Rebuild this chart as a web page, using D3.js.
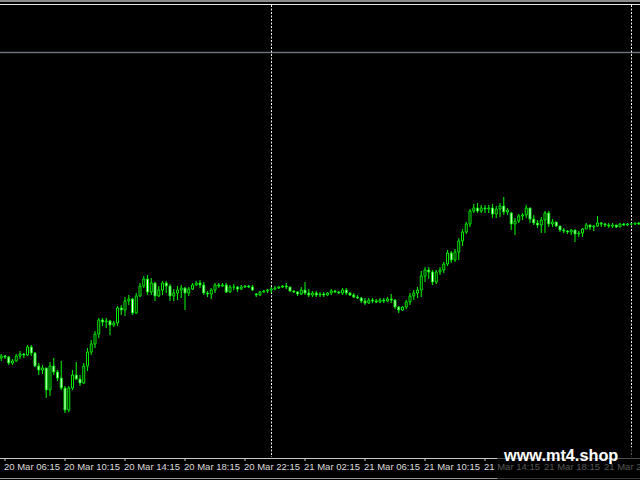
<!DOCTYPE html>
<html><head><meta charset="utf-8">
<script src="https://cdn.jsdelivr.net/npm/d3@7"></script>
<style>html,body{margin:0;padding:0;background:#000;overflow:hidden}</style>
</head><body><svg id="c" width="640" height="480"></svg>
<script>
// M15 bars starting 20 Mar 06:00 (prices in points)
const startTime = new Date(2024, 2, 20, 6, 0);
const barMinutes = 15;
const open = [142,144,143,137,139,144,146,145,153,147,134,130,132,110,134,128,122,112,90,112,125,121,117,134,148,156,166,180,178,179,175,177,192,190,199,201,187,204,214,221,208,217,204,210,217,214,204,207,210,212,207,211,215,217,215,207,206,210,215,214,215,208,213,213,211,213,214,213,206,205,208,209,210,211,212,213,214,213,209,208,206,210,207,205,207,205,206,205,207,209,208,207,210,207,205,203,202,199,197,200,199,198,200,199,201,200,193,190,193,198,204,207,210,224,230,228,218,228,230,236,247,240,248,259,268,276,289,292,289,292,291,292,286,291,294,288,287,276,279,284,285,292,281,277,275,280,287,276,278,274,270,269,268,270,266,267,271,275,273,274,277,276,275,274,275,273,276,275,276,276,277];
const high = [146,145,144,141,146,149,147,155,155,148,137,135,132,138,142,130,139,114,114,130,138,125,137,152,160,169,182,182,182,180,179,194,195,203,205,202,207,217,224,225,222,218,214,219,219,216,211,214,215,213,213,217,219,220,218,209,212,217,217,217,217,215,216,214,215,215,215,215,207,209,210,211,213,214,214,215,217,213,210,209,213,218,211,209,209,208,208,208,211,210,209,212,212,208,207,205,203,202,202,202,201,202,202,203,206,201,194,194,200,207,210,213,229,233,233,230,230,233,238,250,249,251,262,271,278,291,296,297,295,295,295,296,294,297,303,292,288,282,286,287,295,292,285,280,283,289,289,281,278,274,272,270,271,270,269,272,277,275,275,284,278,277,277,277,275,277,277,277,277,277,278];
const low = [139,141,135,135,138,141,142,144,144,133,125,126,102,104,125,119,110,87,88,110,120,114,116,129,145,152,162,174,172,165,173,174,185,184,195,185,186,203,212,205,205,199,203,205,207,199,199,200,202,190,204,210,214,212,205,203,201,207,212,213,207,207,210,208,210,212,212,209,203,204,207,207,207,210,211,212,211,208,207,204,205,205,203,203,203,203,203,204,205,207,206,205,205,204,202,201,197,195,196,197,197,197,197,198,197,191,187,189,191,195,200,202,203,218,221,215,216,225,227,234,237,238,240,254,266,273,287,287,287,287,287,282,282,283,285,285,270,265,277,280,282,277,275,272,267,267,273,273,273,268,267,266,265,258,263,263,271,270,269,273,273,273,272,272,272,273,274,274,275,275,275];
const close = [144,143,137,139,144,146,145,153,147,134,130,132,110,134,128,122,112,90,112,125,121,117,134,148,156,166,180,178,179,175,177,192,190,199,201,187,204,214,221,208,217,204,210,217,214,204,207,210,212,207,211,215,217,215,207,206,210,215,214,215,208,213,213,211,213,214,213,210,205,208,209,210,211,212,213,214,213,209,208,206,210,207,205,207,205,206,205,207,209,208,207,210,207,205,203,202,199,197,200,199,198,200,199,201,200,193,190,193,198,204,207,210,224,230,228,218,228,230,236,247,240,248,259,268,276,289,292,289,292,291,292,286,291,294,288,290,276,279,284,285,292,281,277,275,280,287,276,278,274,270,269,268,270,266,267,271,275,273,274,277,276,275,274,275,273,276,275,276,276,277,276];
const tickLabels = ["20 Mar 06:15","20 Mar 10:15","20 Mar 14:15","20 Mar 18:15","20 Mar 22:15","21 Mar 02:15","21 Mar 06:15","21 Mar 10:15","21 Mar 14:15","21 Mar 18:15","21 Mar 22:15"];
const daySeparators = ["21 Mar 00:00","22 Mar 00:00"];
const hLinePrice = 448;
const watermark = "www.mt4.shop";

const fmt = d3.timeFormat("%d %b %H:%M");
const times = close.map((_, i) => fmt(d3.timeMinute.offset(startTime, i * barMinutes)));
const bars = close.map((c, i) => ({i, t: times[i], o: open[i], h: high[i], l: low[i], c}));

const W = 640, H = 480;
const svg = d3.select("#c");
svg.append("rect").attr("width", W).attr("height", H).attr("fill", "#000");

const x = d3.scaleBand().domain(times).range([-0.625, 640.625]).padding(0);
const cx = t => x(t) + x.bandwidth() / 2;
const y = d3.scaleLinear().domain([20, 500]).range([480, 0]);

// frame
svg.append("rect").attr("x", 0).attr("y", 0).attr("width", W).attr("height", 2).attr("fill", "#8a8a8a");
svg.append("line").attr("x1", 0).attr("x2", W).attr("y1", 4.5).attr("y2", 4.5).attr("stroke", "#e8e8e8").attr("stroke-width", 1);

// horizontal level line
svg.append("line").attr("x1", 0).attr("x2", W).attr("y1", y(hLinePrice) + 0.5).attr("y2", y(hLinePrice) + 0.5)
  .attr("stroke", "#6a6f77").attr("stroke-width", 1.5);

// day separators
svg.selectAll(".sep").data(daySeparators).join("line").attr("class", "sep")
  .attr("x1", d => Math.floor(cx(d)) + 0.5).attr("x2", d => Math.floor(cx(d)) + 0.5).attr("y1", 5).attr("y2", 457)
  .attr("stroke", "#f0f0f0").attr("stroke-width", 1).attr("stroke-dasharray", "2,1.5");

// candles
const green = "#00e800";
const g = svg.append("g");
g.selectAll(".wick").data(bars).join("line").attr("class", "wick")
  .attr("x1", d => cx(d.t)).attr("x2", d => cx(d.t))
  .attr("y1", d => y(d.h)).attr("y2", d => y(d.l))
  .attr("stroke", green).attr("stroke-width", 1.1);
g.selectAll(".body").data(bars).join("path").attr("class", "body")
  .attr("d", d => {
    const x0 = cx(d.t) - 1, y0 = y(Math.max(d.o, d.c)), h = Math.abs(y(d.o) - y(d.c));
    return `M${x0},${y0}h2v${h}h-2Z`;
  })
  .attr("fill", d => d.c >= d.o ? "#000" : "#eaffea")
  .attr("stroke", green).attr("stroke-width", 1);

// time axis
const axis = d3.axisBottom(x).tickValues(tickLabels).tickSize(3).tickSizeOuter(0).tickFormat(d => d);
const ax = svg.append("g").attr("transform", "translate(0,458)").call(axis);
ax.select(".domain").attr("stroke", "#c8c8c8");
ax.selectAll(".tick line").attr("stroke", "#c8c8c8");
ax.selectAll(".tick text").attr("fill", "#dcdcdc").attr("text-anchor", "start").attr("x", -1).attr("y", 5)
  .attr("font-family", "'Liberation Sans', Arial, sans-serif").attr("font-size", "9.5px");
svg.append("line").attr("x1", 0).attr("x2", W).attr("y1", 478.5).attr("y2", 478.5).attr("stroke", "#9a9a9a");

// watermark
svg.append("rect").attr("x", 497).attr("y", 447).attr("width", 143).attr("height", 33).attr("fill", "#000").attr("opacity", 0.62);
svg.append("text").attr("x", 504).attr("y", 461).text(watermark)
  .attr("fill", "#ffffff").attr("font-family", "'Liberation Sans', Arial, sans-serif")
  .attr("font-weight", "bold").attr("font-size", "16.3px");
</script></body></html>
